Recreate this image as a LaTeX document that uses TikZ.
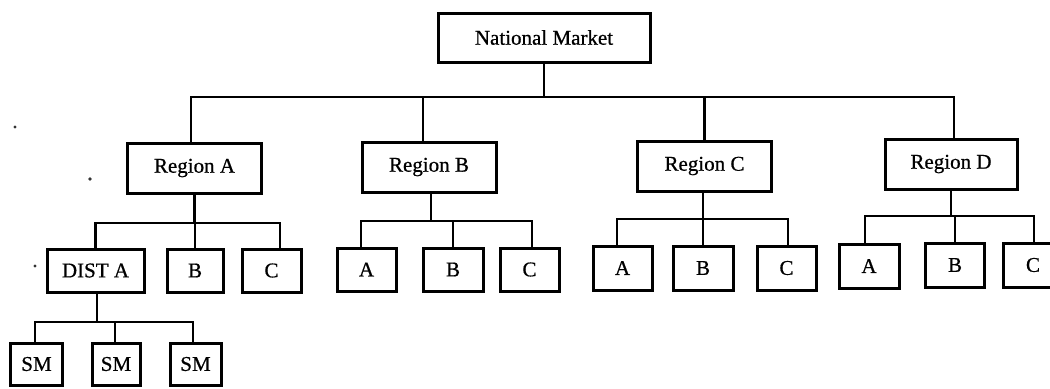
\documentclass[tikz,border=0pt]{standalone}
\usepackage{fontspec}
\setmainfont{Liberation Serif}
% slightly heavier setting of the serif face for box labels
\newfontfamily\labelfont[FakeBold=0.7]{Liberation Serif}
\begin{document}
\begin{tikzpicture}[x=0.5pt,y=-0.5pt,
  box/.style={draw, line width=1.5pt, rectangle, inner sep=0pt, anchor=center,
              font=\labelfont\fontsize{10.5}{12}\selectfont},
  topbox/.style={box, minimum width=106pt, minimum height=24.5pt},
  regbox/.style={box, minimum width=67pt, minimum height=25pt},
  subbox/.style={box, minimum width=29.5pt, minimum height=21.5pt},
  smbox/.style={box, minimum width=26pt, minimum height=21pt},
  link/.style={line width=1.3pt},
  speck/.style={fill=black!80, draw=none}]
\useasboundingbox (0,0) rectangle (1050,388);

% top level
\node[topbox] (NM) at (544,37.5) {National Market};

% regions
\node[regbox] (RA) at (194.5,168) {Region A};
\node[regbox] (RB) at (429,167) {Region B};
\node[regbox] (RC) at (704.5,166) {Region C};
\node[regbox, minimum width=66pt] (RD) at (951,164) {Region D};

% districts of Region A
\node[subbox, minimum width=48.5pt] (DA) at (95.5,270.5) {DIST A};
\node[subbox, minimum width=28pt] (AB) at (195,270.5) {B};
\node[subbox] (AC) at (271.5,270.5) {C};

% districts of Region B
\node[subbox] (BA) at (366.5,269.5) {A};
\node[subbox, minimum width=30pt] (BB) at (453,269.5) {B};
\node[subbox] (BC) at (529.5,269.5) {C};

% districts of Region C
\node[subbox, minimum height=22pt] (CA) at (622.5,268) {A};
\node[subbox, minimum width=30pt, minimum height=22pt] (CB) at (703,268) {B};
\node[subbox, minimum height=22pt] (CC) at (786.5,268) {C};

% districts of Region D
\node[subbox, minimum width=30pt, minimum height=22pt] (DDA) at (869,266) {A};
\node[subbox, minimum height=22pt] (DDB) at (955,265) {B};
\node[subbox, minimum width=30pt, minimum height=22pt] (DDC) at (1033,265) {C};

% sub-markets of District A
\node[smbox] (SM1) at (36.5,364) {SM};
\node[smbox, minimum width=24pt] (SM2) at (116,364) {SM};
\node[smbox, minimum width=25.5pt] (SM3) at (195.5,364) {SM};

% national bus
\coordinate (busN) at (544,97);
\draw[link] (NM.south) -- (busN);
\draw[link] ([xshift=-1.75pt]RA.north) |- (busN) -| ([xshift=1.5pt]RD.north);
\draw[link] ([xshift=-3pt]RB.north) -- ([xshift=-3pt]RB.north |- busN);
\draw[link] (RC.north) -- (RC.north |- busN);

% Region A bus
\coordinate (busA) at (195,223);
\draw[link] (RA.south) -- (RA.south |- busA);
\draw[link] (DA.north) |- (busA) -| ([xshift=4.25pt]AC.north);
\draw[link] (AB.north) -- (AB.north |- busA);

% Region B bus
\coordinate (busB) at (431,221);
\draw[link] ([xshift=1pt]RB.south) -- ([xshift=1pt]RB.south |- busB);
\draw[link] ([xshift=-2.75pt]BA.north) |- (busB) -| ([xshift=1.25pt]BC.north);
\draw[link] (BB.north) -- (BB.north |- busB);

% Region C bus
\coordinate (busC) at (703,219);
\draw[link] ([xshift=-0.75pt]RC.south) -- ([xshift=-0.75pt]RC.south |- busC);
\draw[link] ([xshift=-2.75pt]CA.north) |- (busC) -| ([xshift=0.75pt]CC.north);
\draw[link] (CB.north) -- (CB.north |- busC);

% Region D bus
\coordinate (busD) at (951,216);
\draw[link] (RD.south) -- (RD.south |- busD);
\draw[link] ([xshift=-2pt]DDA.north) |- (busD) -| ([xshift=0.5pt]DDC.north);
\draw[link] (DDB.north) -- (DDB.north |- busD);

% District A bus
\coordinate (busS) at (115,322);
\draw[link] ([xshift=0.75pt]DA.south) -- ([xshift=0.75pt]DA.south |- busS);
\draw[link] ([xshift=-0.75pt]SM1.north) |- (busS) -| ([xshift=-1.25pt]SM3.north);
\draw[link] ([xshift=-0.5pt]SM2.north) -- ([xshift=-0.5pt]SM2.north |- busS);

% stray specks
\fill[speck] (15,127) circle (1.6);
\fill[speck] (90,179) circle (1.8);
\fill[speck] (35,266) circle (1.6);
\end{tikzpicture}
\end{document}
